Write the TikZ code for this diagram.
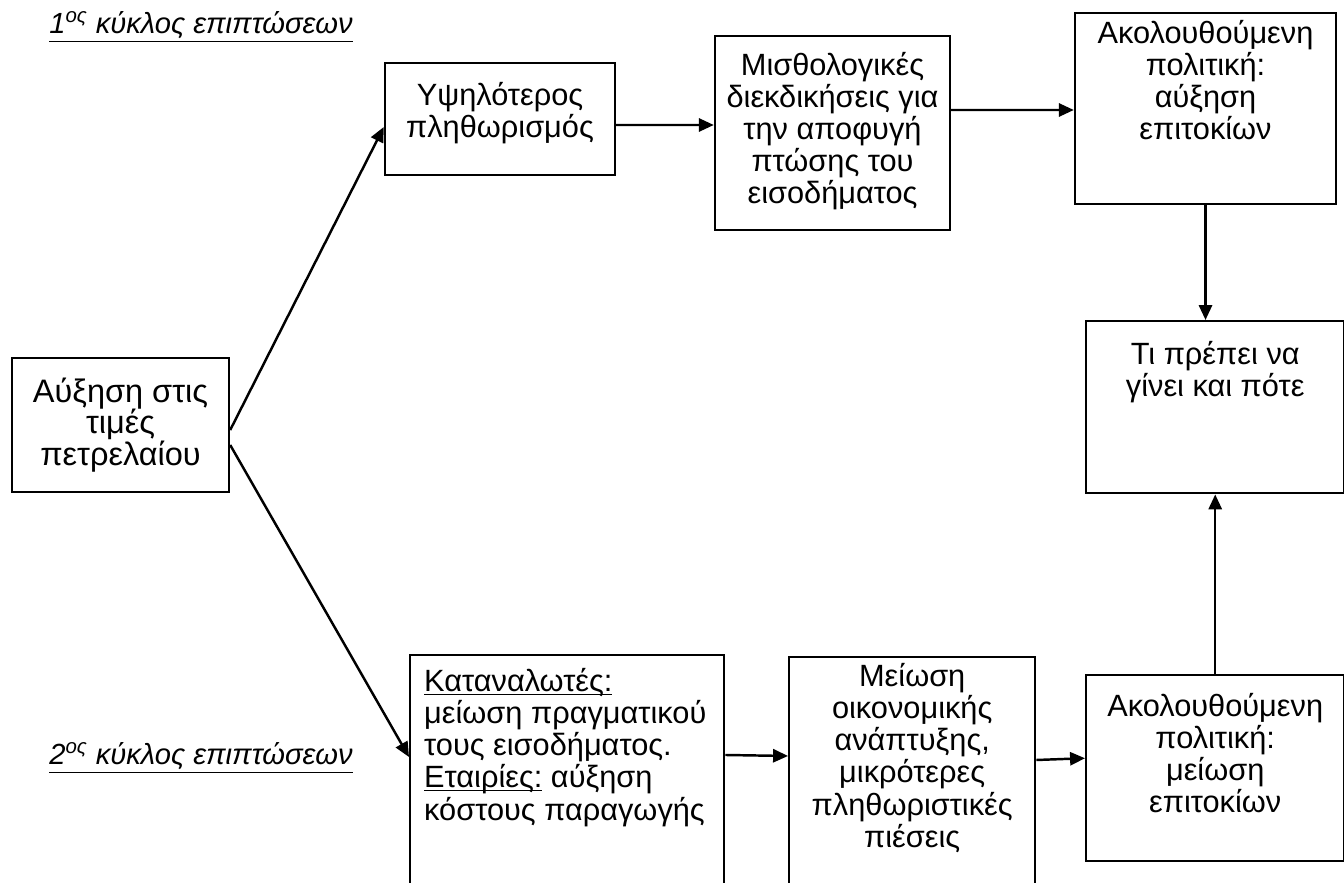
\documentclass[tikz,border=0pt]{standalone}
\usepackage{fontspec}
\setmainfont{Liberation Sans}
\usepackage{tikz}
\usetikzlibrary{positioning}
\usetikzlibrary{arrows.meta}
\newcommand{\boxfont}{\fontsize{17.5pt}{18.3pt}\selectfont}
\newcommand{\bigboxfont}{\fontsize{18.5pt}{18pt}\selectfont}
\newcommand{\cyclefont}{\fontsize{16.6pt}{18pt}\selectfont}
\newcommand{\ulword}[1]{\underline{\raisebox{0pt}[\height][0pt]{#1}}}
\tikzset{
	box/.style={draw,line width=1.4pt,inner sep=0pt},
	boxtext/.style={align=center,inner sep=0pt,font=\boxfont},
	cycletext/.style={inner sep=0pt,font=\cyclefont\itshape}
}

\begin{document}
\begin{tikzpicture}[x=0.02cm,y=-0.02cm,->,>={Triangle[length=8.5pt,width=7.5pt]},line width=1.4pt]
	\useasboundingbox (0,0) rectangle (1344,882);
	\clip (0,0) rectangle (1344,882);
	\node [cycletext] (cyc1) at (201,27) {\underline{1\textsuperscript{ος} κύκλος επιπτώσεων}};
	\node [cycletext] (cyc2) at (201,758) {\underline{2\textsuperscript{ος} κύκλος επιπτώσεων}};
	\node [box,minimum width=4.34cm,minimum height=2.68cm] (oil) at (120.5,425) {};
	\node [box,minimum width=4.6cm,minimum height=2.24cm] (infl) at (500,119) {};
	\node [box,minimum width=4.7cm,minimum height=3.88cm] (wage) at (832.5,133) {};
	\node [box,minimum width=5.22cm,minimum height=3.82cm] (accT) at (1205.5,108.5) {};
	\node [box,anchor=north west,minimum width=5.16cm,minimum height=3.44cm] (what) at (1085,320) {};
	\node [box,anchor=north west,minimum width=6.28cm,minimum height=5.4cm] (cons) at (409,654) {};
	\node [box,anchor=north west,minimum width=4.92cm,minimum height=5.4cm] (dec) at (788,656) {};
	\node [box,anchor=north west,minimum width=5.16cm,minimum height=3.72cm] (accB) at (1085,674) {};
	\node [boxtext,font=\bigboxfont] (oiltext) at (oil) {Αύξηση στις\\τιμές\\πετρελαίου};
	\node [boxtext,below=0.38cm of infl.north] (infltext) {Υψηλότερος\\πληθωρισμός};
	\node [boxtext,below=0.32cm of wage.north] (wagetext) {Μισθολογικές\\διεκδικήσεις για\\την αποφυγή\\πτώσης του\\εισοδήματος};
	\node [boxtext,below=0.14cm of accT.north] (accTtext) {Ακολουθούμενη\\πολιτική:\\αύξηση\\επιτοκίων};
	\node [boxtext,below=0.4cm of what.north] (whattext) {Τι πρέπει να\\γίνει και πότε};
	\node [boxtext,align=left,below right=0.26cm and 0.28cm of cons.north west] (constext) {\ulword{Καταναλωτές:}\\μείωση πραγματικού\\τους εισοδήματος.\\\ulword{Εταιρίες:} αύξηση\\κόστους παραγωγής};
	\node [boxtext,below=0.12cm of dec.north] (dectext) {Μείωση\\οικονομικής\\ανάπτυξης,\\μικρότερες\\πληθωριστικές\\πιέσεις};
	\node [boxtext,below=0.36cm of accB.north] (accBtext) {Ακολουθούμενη\\πολιτική:\\μείωση\\επιτοκίων};
	\draw ([yshift=-0.1cm]oil.east) -- ([yshift=-0.16cm]infl.west);
	\draw ([yshift=-0.4cm]oil.east) -- ([yshift=-2.06cm]cons.north west);
	\draw ([yshift=-0.12cm]infl.east) -- ([yshift=0.16cm]wage.west);
	\draw ([yshift=0.46cm]wage.east) -- ([yshift=-0.03cm]accT.west);
	\draw (accT.south) -- (accT.south |- what.north);
	\draw ([yshift=-2.02cm]cons.north east) -- ([yshift=-2.0cm]dec.north west);
	\draw ([yshift=-2.08cm]dec.north east) -- ([yshift=0.2cm]accB.west);
	\draw (accB.north) -- (accB.north |- what.south);
\end{tikzpicture}
\end{document}
